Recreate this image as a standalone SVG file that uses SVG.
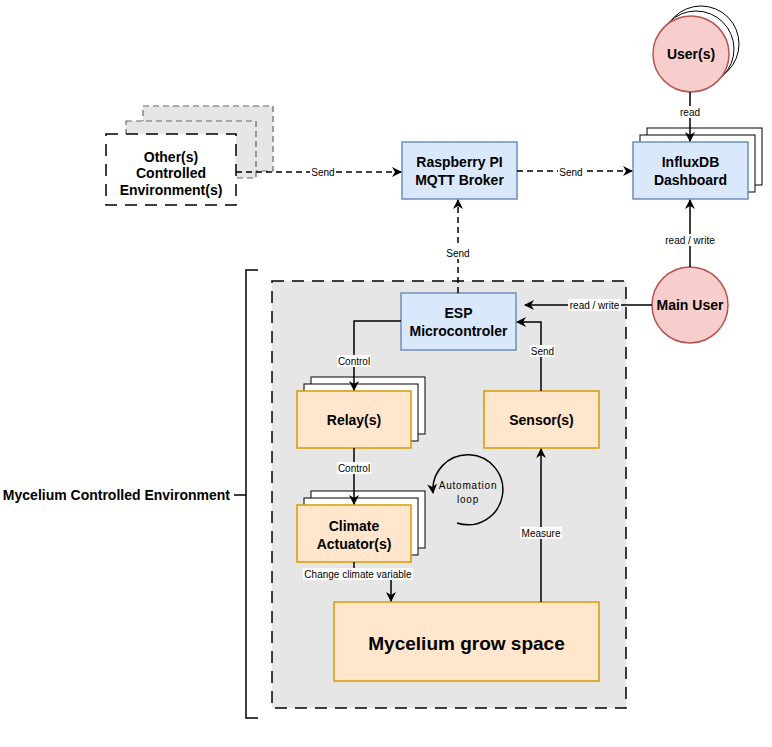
<svg xmlns="http://www.w3.org/2000/svg" width="772" height="747" viewBox="0 0 772 747">
<style>
text{font-family:"Liberation Sans",Arial,sans-serif;fill:#000}
.t{font-size:14px;font-weight:bold;text-anchor:middle}
.l{font-size:10px;text-anchor:middle}
.blue{fill:#dae8fc;stroke:#6c8ebf;stroke-width:1.5}
.or{fill:#ffe6cc;stroke:#d79b00;stroke-width:1.5}
.red{fill:#f8cecc;stroke:#b85450;stroke-width:1.5}
.stk{fill:#fff;stroke:#000;stroke-width:1}
.e{fill:none;stroke:#000;stroke-width:1.5}
.d{stroke-dasharray:6 4}
.lb{fill:#fff}
</style>
<defs>
<marker id="a" viewBox="0 0 10 10" refX="9" refY="5" markerWidth="10" markerHeight="10" markerUnits="userSpaceOnUse" orient="auto">
<path d="M0,0 L10,5 L0,10 L3,5 Z" fill="#000"/>
</marker>
</defs>
<rect width="772" height="747" fill="#fff"/>

<g id="container">
<rect x="272" y="281" width="354" height="427" fill="#e6e6e6" stroke="#000" stroke-width="1.5" stroke-dasharray="12 8"/>
</g>

<g id="bracket">
<path d="M258,270 H246 V718 H258 M234,495 H246" fill="none" stroke="#000" stroke-width="1.5"/>
<text x="230" y="500" font-size="14" font-weight="bold" text-anchor="end">Mycelium Controlled Environment</text>
</g>

<g id="others">
<rect x="143" y="106" width="130" height="65" fill="#e6e6e6" stroke="#666" stroke-width="1.2" stroke-dasharray="6 4"/>
<rect x="126" y="121" width="130" height="57" fill="#e6e6e6" stroke="#666" stroke-width="1.2" stroke-dasharray="6 4"/>
<rect x="106" y="134" width="130" height="71" fill="#fff" stroke="#000" stroke-width="1.5" stroke-dasharray="12 8"/>
<text class="t" x="171" y="162">Other(s)</text>
<text class="t" x="171" y="178">Controlled</text>
<text class="t" x="171" y="195">Environment(s)</text>
</g>

<g id="rpi">
<rect class="blue" x="402" y="142" width="115" height="57"/>
<text class="t" x="459.5" y="167">Raspberry PI</text>
<text class="t" x="459.5" y="185">MQTT Broker</text>
</g>

<g id="influx">
<rect class="stk" x="647" y="128" width="115" height="57"/>
<rect class="stk" x="640" y="135" width="115" height="57"/>
<rect class="blue" x="633" y="142" width="115" height="57"/>
<text class="t" x="690.5" y="167">InfluxDB</text>
<text class="t" x="690.5" y="185">Dashboard</text>
</g>

<g id="users">
<circle class="stk" cx="701" cy="44" r="38"/>
<circle class="stk" cx="696" cy="49" r="38"/>
<circle class="red" cx="691" cy="54" r="38"/>
<text class="t" x="691" y="59">User(s)</text>
</g>

<g id="mainuser">
<circle class="red" cx="690" cy="305" r="38"/>
<text class="t" x="690" y="310">Main User</text>
</g>

<g id="esp">
<rect class="blue" x="401" y="293" width="115" height="57"/>
<text class="t" x="458.5" y="318">ESP</text>
<text class="t" x="458.5" y="336">Microcontroler</text>
</g>

<g id="relay">
<rect class="stk" x="311" y="377" width="114" height="57"/>
<rect class="stk" x="304" y="384" width="114" height="57"/>
<rect class="or" x="297" y="391" width="114" height="57"/>
<text class="t" x="354" y="425">Relay(s)</text>
</g>

<g id="sensor">
<rect class="or" x="484" y="391" width="115" height="57"/>
<text class="t" x="541.5" y="425">Sensor(s)</text>
</g>

<g id="actuator">
<rect class="stk" x="311" y="491" width="114" height="57"/>
<rect class="stk" x="304" y="498" width="114" height="57"/>
<rect class="or" x="297" y="505" width="114" height="57"/>
<text class="t" x="354" y="531">Climate</text>
<text class="t" x="354" y="549">Actuator(s)</text>
</g>

<g id="growspace">
<rect class="or" x="334" y="602" width="265" height="79"/>
<text x="466.5" y="650" font-size="19" font-weight="bold" text-anchor="middle">Mycelium grow space</text>
</g>

<g id="loop">
<path d="M457,523 A35,35 0 1 0 433,493" fill="none" stroke="#000" stroke-width="1.5" marker-end="url(#a)"/>
<text class="l" x="468" y="489" letter-spacing="0.8">Automation</text>
<text class="l" x="468" y="503" letter-spacing="0.8">loop</text>
</g>

<g id="connectors">
<path class="e d" d="M236,172 H401" marker-end="url(#a)"/>
<path class="e d" d="M517,171 H632" marker-end="url(#a)"/>
<path class="e d" d="M458,293 V200" marker-end="url(#a)"/>
<path class="e" d="M690,92 V141" marker-end="url(#a)"/>
<path class="e" d="M690,267 V200" marker-end="url(#a)"/>
<path class="e" d="M652,305 H525" marker-end="url(#a)"/>
<path class="e" d="M401,321 H354 V390" marker-end="url(#a)"/>
<path class="e" d="M354,448 V504" marker-end="url(#a)"/>
<path class="e" d="M354,562 V575 H391 V601" marker-end="url(#a)"/>
<path class="e" d="M541,602 V449" marker-end="url(#a)"/>
<path class="e" d="M541,391 V322 H517" marker-end="url(#a)"/>

<rect class="lb" x="310" y="166" width="26" height="12"/>
<text class="l" x="323" y="176">Send</text>
<rect class="lb" x="558" y="166" width="26" height="12"/>
<text class="l" x="571" y="176">Send</text>
<rect class="lb" x="444" y="247" width="28" height="12"/>
<text class="l" x="458" y="257">Send</text>
<rect class="lb" x="679" y="106" width="22" height="12"/>
<text class="l" x="690" y="116">read</text>
<rect class="lb" x="663" y="234" width="54" height="12"/>
<text class="l" x="690" y="244">read / write</text>
<rect class="lb" x="568" y="299" width="53" height="12"/>
<text class="l" x="594.5" y="309">read / write</text>
<rect class="lb" x="337" y="355" width="34" height="12"/>
<text class="l" x="354" y="365">Control</text>
<rect class="lb" x="337" y="462" width="34" height="12"/>
<text class="l" x="354" y="472">Control</text>
<rect class="lb" x="303" y="568" width="110" height="12"/>
<text class="l" x="358" y="578">Change climate variable</text>
<rect class="lb" x="520" y="527" width="42" height="12"/>
<text class="l" x="541" y="537">Measure</text>
<rect class="lb" x="530" y="345" width="25" height="12"/>
<text class="l" x="542.5" y="355">Send</text>
</g>
</svg>
